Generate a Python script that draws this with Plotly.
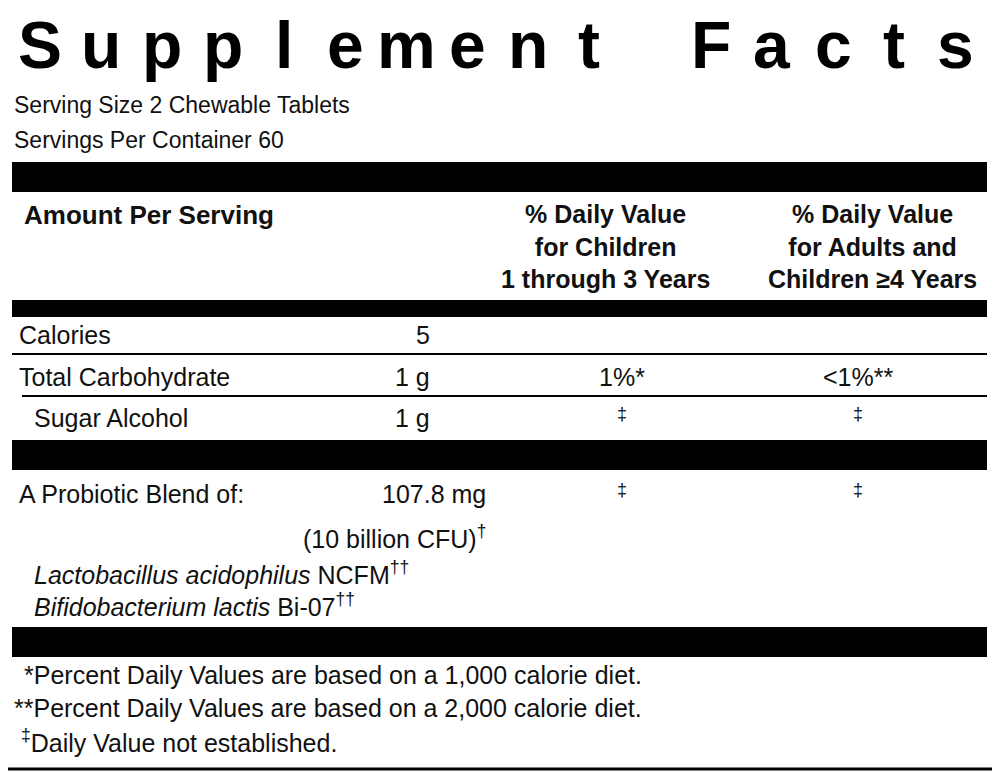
import plotly.graph_objects as go

title = "Supplement Facts"
serving_lines = ["Serving Size 2 Chewable Tablets", "Servings Per Container 60"]
header_cols = ["% Daily Value<br>for Children<br>1 through 3 Years",
               "% Daily Value<br>for Adults and<br>Children ≥4 Years"]
row_labels = ["Calories", "Total Carbohydrate", "Sugar Alcohol"]
row_amounts = ["5", "1 g", "1 g"]
row_dv_kids = ["", "1%*", "‡"]
row_dv_adults = ["", "<1%**", "‡"]
blend_name = "A Probiotic Blend of:"
blend_amount = "107.8 mg"
blend_cfu = "(10 billion CFU)<sup>†</sup>"
strains = ["<i>Lactobacillus acidophilus</i> NCFM<sup>††</sup>",
           "<i>Bifidobacterium lactis</i> Bi-07<sup>††</sup>"]
footnotes = ["*Percent Daily Values are based on a 1,000 calorie diet.",
             "**Percent Daily Values are based on a 2,000 calorie diet.",
             " <sup>‡</sup>Daily Value not established."]

FONT = "Liberation Sans Narrow, Arial Narrow, Liberation Sans, Arial"
OFF = 8  # page body margin
fig = go.Figure()
ann = []


def text(x, y, s, size=25, anchor="left", bold=False, color="#111"):
    if bold:
        s = "<b>" + s + "</b>"
    ann.append(dict(x=x, y=y, text=s, xref="x", yref="y", showarrow=False,
                    xanchor=anchor, yanchor="middle", align="center",
                    font=dict(family=FONT, size=size, color=color)))


# title, letters spread out
step = (955 - 40) / (len(title) - 1)
for i, ch in enumerate(title):
    if ch != " ":
        ann.append(dict(x=40 + i * step, y=45, text="<b>" + ch + "</b>", xref="x", yref="y",
                        showarrow=False, xanchor="center", yanchor="middle",
                        font=dict(family="Liberation Sans, Arial", size=66, color="#000")))

for i, s in enumerate(serving_lines):
    text(12, 105 + 35 * i, s, size=23)

shapes = []
def bar(y0, y1):
    shapes.append(dict(type="rect", x0=12, x1=987, y0=y0, y1=y1, xref="x", yref="y",
                       fillcolor="#000", line=dict(width=0)))
def hline(y, x0=12):
    shapes.append(dict(type="line", x0=x0, x1=987, y0=y, y1=y, xref="x", yref="y",
                       line=dict(color="#000", width=2)))

bar(162, 192)
text(22, 215, "Amount Per Serving", size=26, bold=True)
text(605, 246, header_cols[0], size=25, anchor="center", bold=True)
text(872, 246, header_cols[1], size=25, anchor="center", bold=True)
bar(300, 317)

ys = [335, 377, 418]
xs_label = [17, 17, 32]
for i in range(len(row_labels)):
    text(xs_label[i], ys[i], row_labels[i])
    text(432, ys[i], row_amounts[i], anchor="right")
    text(622, ys[i] - (4 if row_dv_kids[i] == "‡" else 0), row_dv_kids[i], size=25 if row_dv_kids[i] != "‡" else 18, anchor="center")
    text(858, ys[i] - (4 if row_dv_adults[i] == "‡" else 0), row_dv_adults[i], size=25 if row_dv_adults[i] != "‡" else 18, anchor="center")
hline(354)
hline(396, x0=22)
bar(440, 470)

text(17, 494, blend_name)
text(488, 494, blend_amount, anchor="right")
text(622, 490, "‡", size=18, anchor="center")
text(858, 490, "‡", size=18, anchor="center")
text(488, 537, blend_cfu, anchor="right")
for i, s in enumerate(strains):
    text(32, 573 + 32 * i, s)
bar(627, 657)
for i, s in enumerate(footnotes):
    text(12 + (10 if i == 0 else 0), 675 + 33 * i, s, size=25)

shapes.append(dict(type="rect", x0=2, x1=997, y0=2, y1=769, xref="x", yref="y",
                   line=dict(color="#000", width=3)))

fig.update_layout(width=1000 - OFF, height=772 - OFF, margin=dict(l=0, r=0, t=0, b=0),
                  plot_bgcolor="white", paper_bgcolor="white",
                  xaxis=dict(range=[OFF, 1000], visible=False, fixedrange=True),
                  yaxis=dict(range=[772, OFF], visible=False, fixedrange=True),
                  shapes=shapes, annotations=ann, showlegend=False)
fig.write_html("out.html")
